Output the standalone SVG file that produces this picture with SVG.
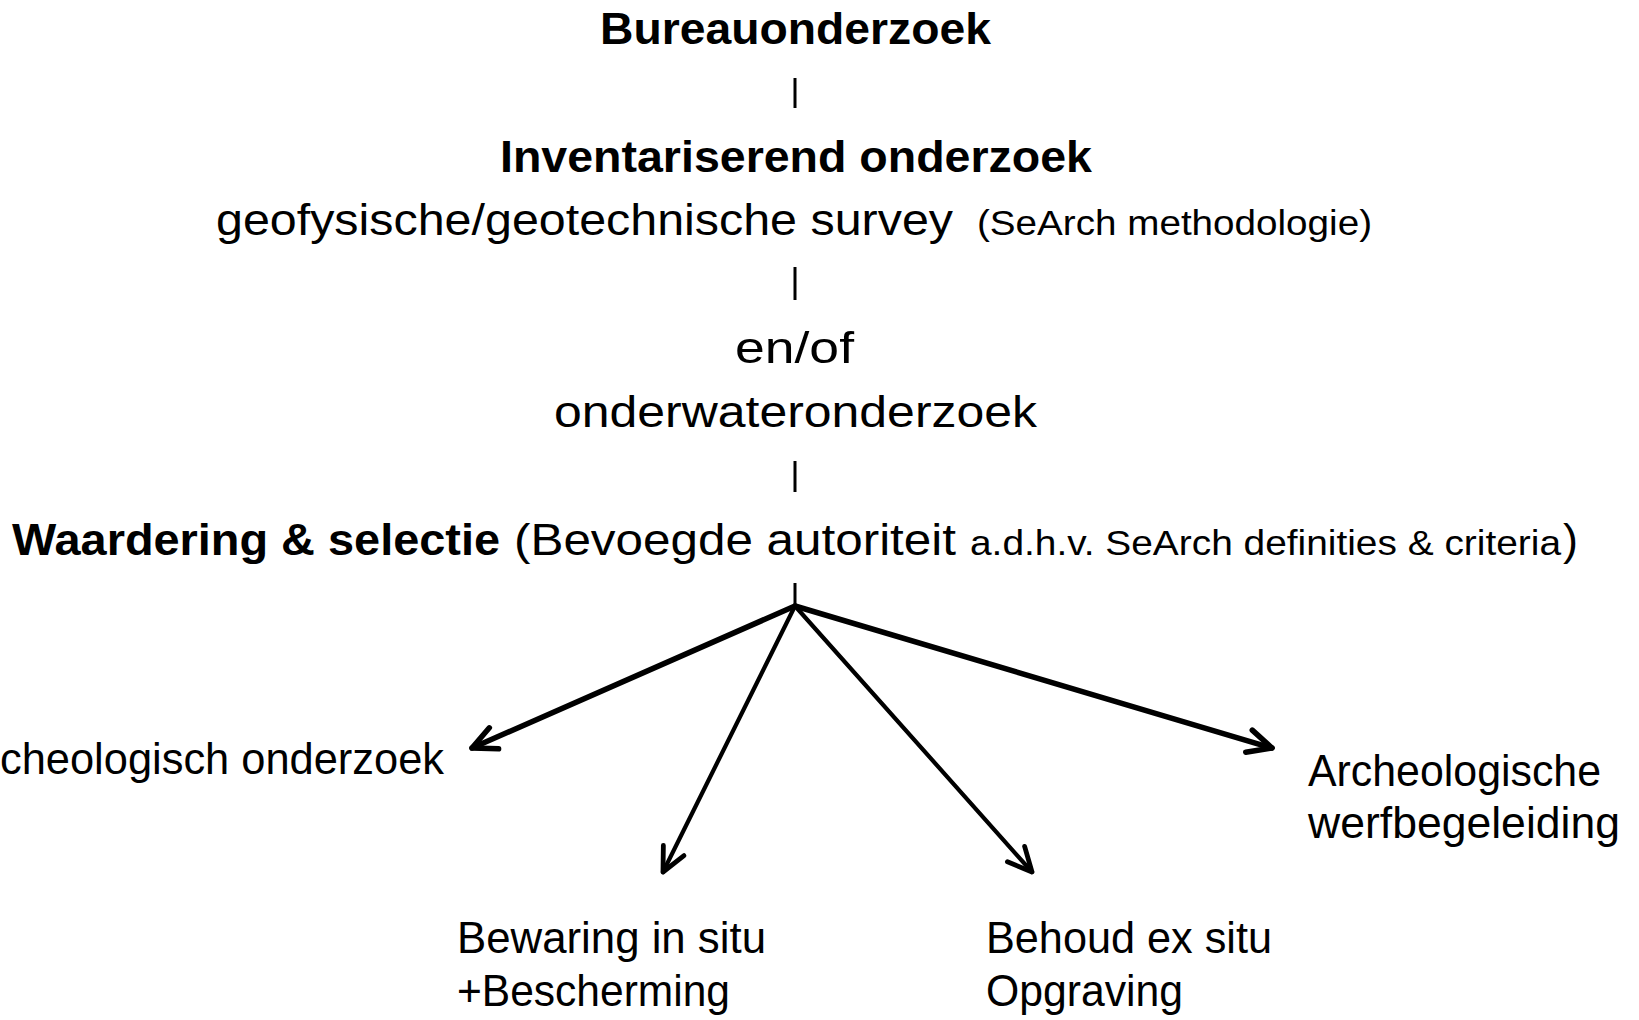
<svg xmlns="http://www.w3.org/2000/svg" width="1639" height="1020" viewBox="0 0 1639 1020">
<style>
text{font-family:"Liberation Sans",Arial,sans-serif;fill:#000}
.t{font-size:45px}
.b{font-weight:bold}
.s{font-size:35px}
.stub{stroke:#000;stroke-width:3;fill:none}
.arr{stroke:#000;stroke-linecap:round;fill:none}
.thick{stroke-width:5.5;marker-end:url(#headThick)}
.thin{stroke-width:4.2;marker-end:url(#headThin)}
</style>
<defs>
<marker id="headThick" markerUnits="userSpaceOnUse" orient="auto" refX="0" refY="0" overflow="visible" markerWidth="1" markerHeight="1">
<path d="M-24,-11.5 L0,0 L-24,11.5" fill="none" stroke="#000" stroke-width="5.5" stroke-linecap="round" stroke-linejoin="round"/>
</marker>
<marker id="headThin" markerUnits="userSpaceOnUse" orient="auto" refX="0" refY="0" overflow="visible" markerWidth="1" markerHeight="1">
<path d="M-24,-11.5 L0,0 L-24,11.5" fill="none" stroke="#000" stroke-width="4.8" stroke-linecap="round" stroke-linejoin="round"/>
</marker>
</defs>
<rect width="1639" height="1020" fill="#fff"/>
<g id="connectors">
<line class="stub" x1="795" y1="78" x2="795" y2="108"/>
<line class="stub" x1="795" y1="267" x2="795" y2="300"/>
<line class="stub" x1="795" y1="461" x2="795" y2="492"/>
<line class="stub" x1="795" y1="583" x2="795" y2="607"/>
<line class="arr thick" x1="795" y1="606" x2="472" y2="748"/>
<line class="arr thin" x1="795" y1="606" x2="663" y2="872"/>
<line class="arr thin" x1="795" y1="606" x2="1032" y2="872"/>
<line class="arr thick" x1="795" y1="606" x2="1272" y2="748"/>
</g>
<g id="n-bureau"><text class="t b" x="600" y="44" textLength="391" lengthAdjust="spacingAndGlyphs">Bureauonderzoek</text></g>
<g id="n-inventariserend">
<text class="t b" x="500" y="172" textLength="592" lengthAdjust="spacingAndGlyphs">Inventariserend onderzoek</text>
<text class="t" x="216" y="235" textLength="737" lengthAdjust="spacingAndGlyphs">geofysische/geotechnische survey</text>
<text class="s" x="977" y="235" textLength="395" lengthAdjust="spacingAndGlyphs">(SeArch methodologie)</text>
</g>
<g id="n-onderwater">
<text class="t" x="735" y="363" textLength="119" lengthAdjust="spacingAndGlyphs">en/of</text>
<text class="t" x="554" y="427" textLength="483" lengthAdjust="spacingAndGlyphs">onderwateronderzoek</text>
</g>
<g id="n-waardering">
<text class="t b" x="12" y="555" textLength="488" lengthAdjust="spacingAndGlyphs">Waardering &amp; selectie</text>
<text class="t" x="514" y="555" textLength="442" lengthAdjust="spacingAndGlyphs">(Bevoegde autoriteit</text>
<text class="s" x="970" y="555" textLength="591" lengthAdjust="spacingAndGlyphs">a.d.h.v. SeArch definities &amp; criteria</text>
<text class="t" x="1563" y="555" textLength="15" lengthAdjust="spacingAndGlyphs">)</text>
</g>
<g id="n-onderzoek"><text class="t" x="0" y="774" textLength="444" lengthAdjust="spacingAndGlyphs">cheologisch onderzoek</text></g>
<g id="n-bewaring">
<text class="t" x="457" y="953" textLength="309" lengthAdjust="spacingAndGlyphs">Bewaring in situ</text>
<text class="t" x="457" y="1006" textLength="273" lengthAdjust="spacingAndGlyphs">+Bescherming</text>
</g>
<g id="n-behoud">
<text class="t" x="986" y="953" textLength="286" lengthAdjust="spacingAndGlyphs">Behoud ex situ</text>
<text class="t" x="986" y="1006" textLength="197" lengthAdjust="spacingAndGlyphs">Opgraving</text>
</g>
<g id="n-werfbegeleiding">
<text class="t" x="1308" y="786" textLength="293" lengthAdjust="spacingAndGlyphs">Archeologische</text>
<text class="t" x="1308" y="838" textLength="312" lengthAdjust="spacingAndGlyphs">werfbegeleiding</text>
</g>
</svg>
